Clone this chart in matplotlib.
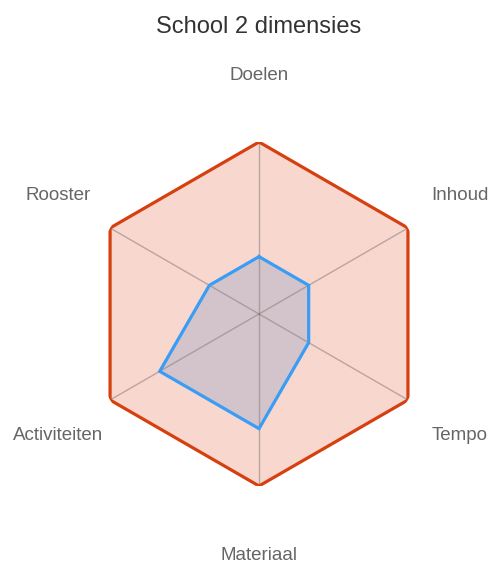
import numpy as np
import matplotlib.pyplot as plt

plt.rcParams["font.family"] = ["Liberation Sans", "DejaVu Sans"]

# -------------------------
# Data
# -------------------------
dimensions = ["Doelen", "Inhoud", "Tempo", "Materiaal", "Activiteiten", "Rooster"]
maximum = [3, 3, 3, 3, 3, 3]
school2 = [1, 1, 1, 2, 2, 1]
r_max = 3

angles = np.linspace(0, 2 * np.pi, len(dimensions), endpoint=False)
closed_angles = np.append(angles, angles[0])


def close(values):
    return np.append(values, values[0])


fig = plt.figure(figsize=(4.9, 5.63), dpi=100)
ax = fig.add_axes([0.1776, 0.1368, 0.702, 0.611], polar=True)

ax.set_theta_offset(np.pi / 2)
ax.set_theta_direction(-1)
ax.set_ylim(0, r_max)

# -------------------------
# Series
# -------------------------
ax.fill(closed_angles, close(maximum), color="#dc3912", alpha=0.2, lw=0)
ax.plot(closed_angles, close(maximum), color="#d6400f", lw=2.3, zorder=3,
        solid_joinstyle="miter")

ax.fill(closed_angles, close(school2), color=(100 / 255, 140 / 255, 190 / 255),
        alpha=0.25, lw=0)
ax.plot(closed_angles, close(school2), color="#3a9df5", lw=2.3, zorder=4,
        solid_joinstyle="miter")

# -------------------------
# Axes styling
# -------------------------
ax.set_xticks(angles)
ax.set_xticklabels([])
ax.set_yticks([])
ax.xaxis.grid(True, color="#8a7a78", alpha=0.55, lw=1)
ax.yaxis.grid(False)
ax.spines["polar"].set_visible(False)
ax.patch.set_alpha(0)

# labels slightly closer horizontally than vertically, like the reference
for ang, name in zip(angles, dimensions):
    dx = np.sin(ang) * 232
    dy = np.cos(ang) * 240
    ax.annotate(name, xy=(ang, 0), xytext=(dx * 0.72, dy * 0.72),
                textcoords="offset points", ha="center",
                va="center_baseline", fontsize=13.5, color="#666666",
                annotation_clip=False)

fig.text(0.5286, 0.952, "School 2 dimensies", ha="center", va="center",
         fontsize=17, color="#333333")

fig.savefig("out.png", dpi=100)
